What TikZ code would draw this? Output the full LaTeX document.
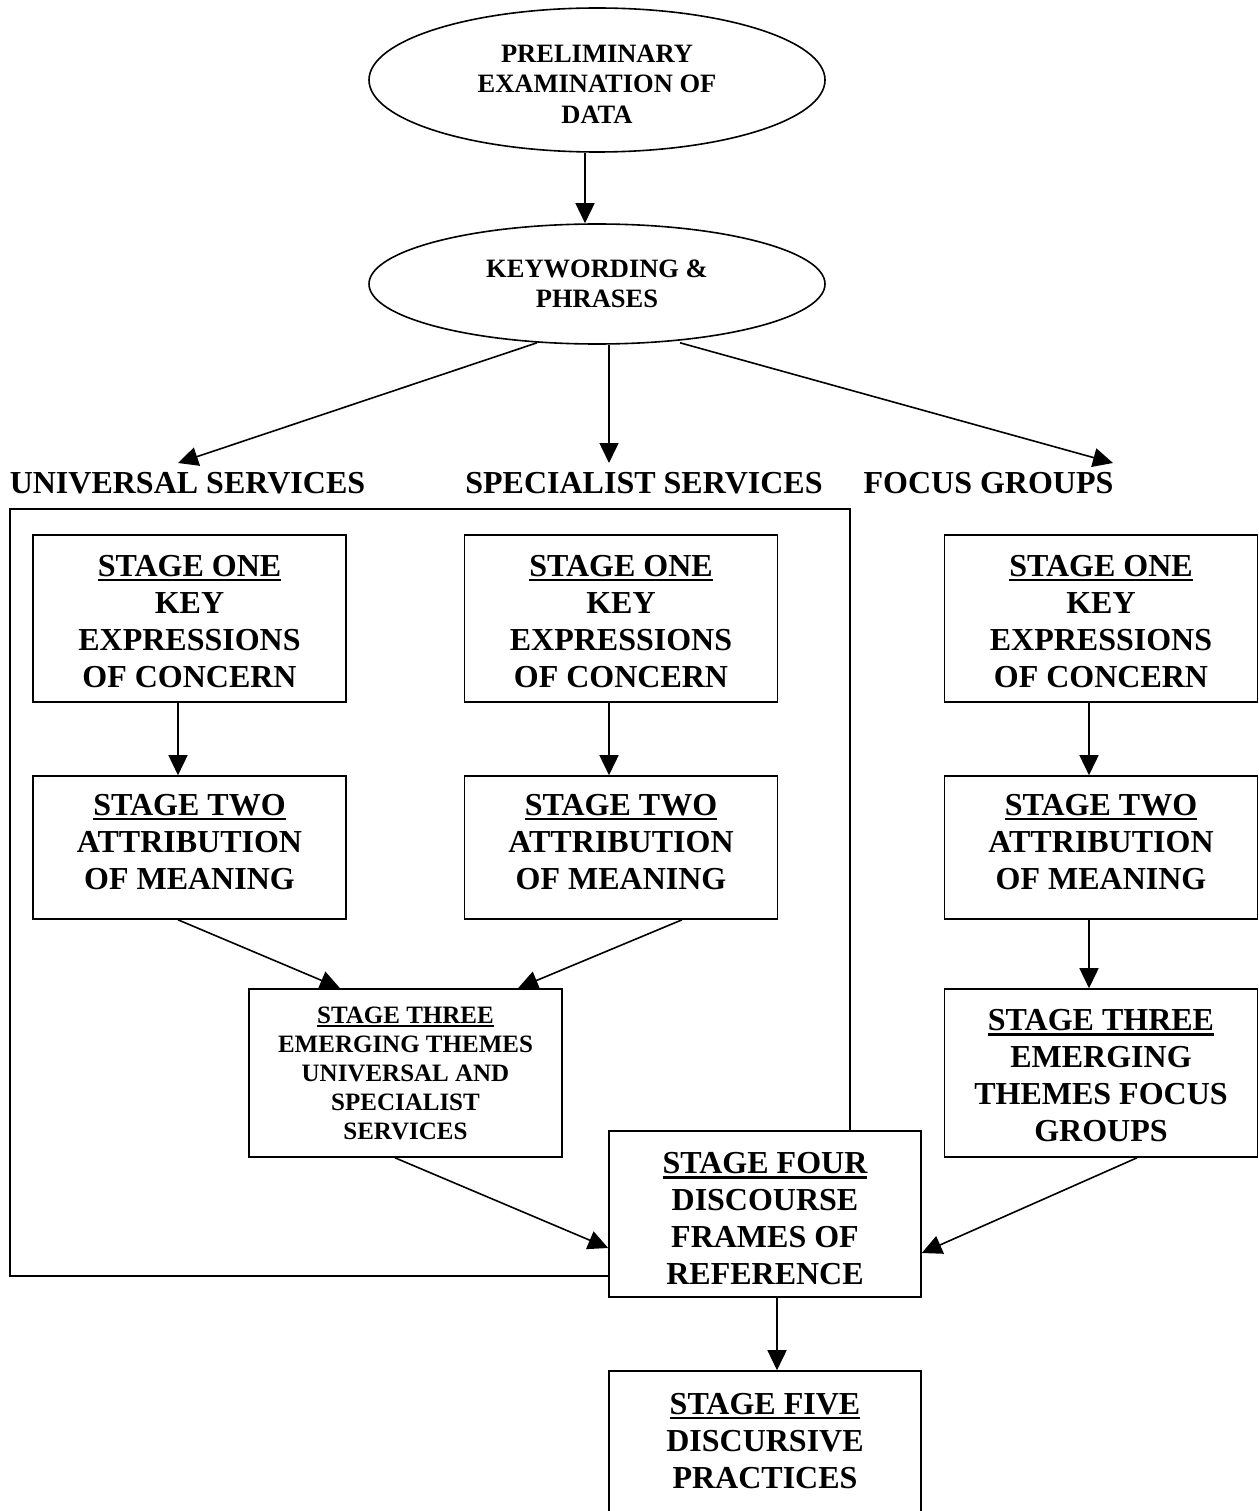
\documentclass[tikz,border=0pt]{standalone}
\usepackage{fontspec}
\setmainfont{Liberation Serif}
\usetikzlibrary{arrows.meta,shapes.geometric,calc}
\newlength\ulw
\newcommand\uln[1]{\settowidth\ulw{#1}\rlap{\rule[-0.15em]{\ulw}{0.08em}}#1}
\newcommand\bigf{\fontsize{32}{37}\selectfont\bfseries}
\newcommand\midf{\fontsize{25}{29}\selectfont\bfseries}
\newcommand\elf{\fontsize{26.5}{30.5}\selectfont\bfseries}
\tikzset{
  stagebox/.style={draw, line width=1.6pt, minimum width=313pt, inner sep=0pt, align=center, font=\bigf},
  ovalbox/.style={draw, ellipse, line width=1.6pt, minimum width=456pt, inner sep=0pt, align=center, font=\elf},
  heading/.style={inner sep=0pt, font=\bigf},
  plain/.style={inner sep=0pt, align=center, font=\bigf},
  conn/.style={line width=1.6pt, -{Triangle[length=20pt,width=19pt]}},
  frameline/.style={line width=1.6pt}
}
\begin{document}
\begin{tikzpicture}[x=1pt,y=-1pt]
\useasboundingbox (0,0) rectangle (1258,1511);
\clip (0,0) rectangle (1258,1511);
\fill[white] (0,0) rectangle (1258,1511);

% ellipses
\node[ovalbox, minimum height=144pt] (e1) at (597,80) {};
\node[plain, font=\elf] (e1t) at (597,84) {PRELIMINARY\\EXAMINATION OF\\DATA};
\node[ovalbox, minimum height=120pt] (e2) at (597,284) {KEYWORDING \&\\PHRASES};

% headings
\node[heading] (hU) at (187.5,483) {UNIVERSAL SERVICES};
\node[heading] (hS) at (644,483) {SPECIALIST SERVICES};
\node[heading] (hF) at (988.5,483) {FOCUS GROUPS};
\coordinate (tU) at (178,463);
\coordinate (tS) at (609,463);
\coordinate (tF) at (1113,463);

% outer frame
\draw[frameline] (10,509) rectangle (850,1276);

% stage one
\node[stagebox, minimum height=167pt] (s1a) at (189.5,618.5) {};
\node[plain] (s1at) at (189.5,621.5) {\uln{STAGE ONE}\\KEY\\EXPRESSIONS\\OF CONCERN};
\node[stagebox, minimum height=167pt] (s1b) at (621,618.5) {};
\node[plain] (s1bt) at (621,621.5) {\uln{STAGE ONE}\\KEY\\EXPRESSIONS\\OF CONCERN};
\node[stagebox, minimum height=167pt] (s1c) at (1101,618.5) {};
\node[plain] (s1ct) at (1101,621.5) {\uln{STAGE ONE}\\KEY\\EXPRESSIONS\\OF CONCERN};

% stage two
\node[stagebox, minimum height=143pt] (s2a) at (189.5,847.5) {};
\node[plain] (s2at) at (189.5,842) {\uln{STAGE TWO}\\ATTRIBUTION\\OF MEANING};
\node[stagebox, minimum height=143pt] (s2b) at (621,847.5) {};
\node[plain] (s2bt) at (621,842) {\uln{STAGE TWO}\\ATTRIBUTION\\OF MEANING};
\node[stagebox, minimum height=143pt] (s2c) at (1101,847.5) {};
\node[plain] (s2ct) at (1101,842) {\uln{STAGE TWO}\\ATTRIBUTION\\OF MEANING};

% stage three
\node[stagebox, minimum height=168pt, font=\midf] (s3a) at (405.5,1073) {\uln{STAGE THREE}\\EMERGING THEMES\\UNIVERSAL AND\\SPECIALIST\\SERVICES};
\node[stagebox, minimum height=168pt] (s3c) at (1101,1073) {};
\node[plain] (s3ct) at (1101,1076) {\uln{STAGE THREE}\\EMERGING\\THEMES FOCUS\\GROUPS};

% stage four
\node[stagebox, minimum width=312pt, minimum height=166pt, fill=white] (s4) at (765,1214) {};
\node[plain] (s4t) at (765,1219) {\uln{STAGE FOUR}\\DISCOURSE\\FRAMES OF\\REFERENCE};

% stage five
\node[stagebox, minimum width=312pt, minimum height=166pt] (s5) at (765,1454) {};
\node[plain] (s5t) at (765,1441) {\uln{STAGE FIVE}\\DISCURSIVE\\PRACTICES};

% connectors
\draw[conn] ($(e1.south)+(-12,0)$) -- ($(e2.north)+(-12,0)$);
\draw[conn] ($(e2.south)+(-60,-2)$) -- (tU);
\draw[conn] ($(e2.south)+(12,0)$) -- (tS);
\draw[conn] ($(e2.south)+(83,-2)$) -- (tF);

\draw[conn] ($(s1a.south)+(-11.5,0)$) -- ($(s2a.north)+(-11.5,0)$);
\draw[conn] ($(s1b.south)+(-12,0)$) -- ($(s2b.north)+(-12,0)$);
\draw[conn] ($(s1c.south)+(-12,0)$) -- ($(s2c.north)+(-12,0)$);

\draw[conn] ($(s2a.south)+(-11.5,0)$) -- ($(s3a.north)+(-65.5,0)$);
\draw[conn] ($(s2b.south)+(61,0)$) -- ($(s3a.north)+(112.5,0)$);
\draw[conn] ($(s2c.south)+(-12,0)$) -- ($(s3c.north)+(-12,0)$);

\draw[conn] ($(s3a.south)+(-10.5,0)$) -- ($(s4.west)+(0,34)$);
\draw[conn] ($(s3c.south)+(36,0)$) -- ($(s4.east)+(0,39)$);
\draw[conn] ($(s4.south)+(12,0)$) -- ($(s5.north)+(12,0)$);
\end{tikzpicture}
\end{document}
